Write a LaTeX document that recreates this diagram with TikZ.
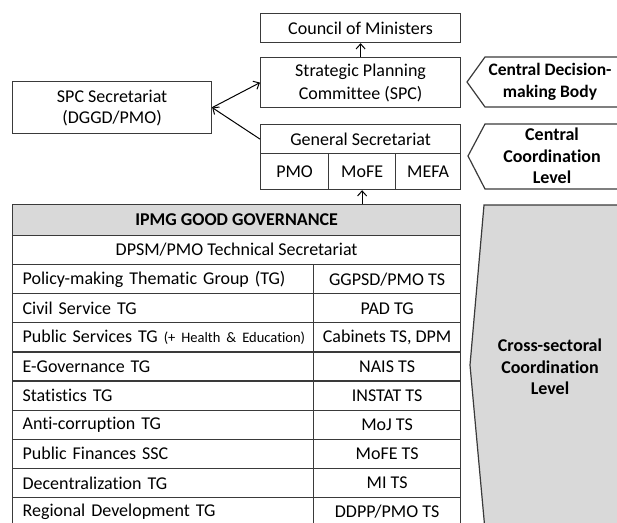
\documentclass[tikz,border=0pt]{standalone}
\usepackage{fontspec}
\setmainfont{Carlito}[Ligatures=NoCommon]
\usetikzlibrary{arrows.meta,calc}
\definecolor{fillg}{HTML}{D9D9D9}
\definecolor{lineg}{HTML}{3A3A3A}
\begin{document}
\begin{tikzpicture}[x=1pt,y=-1pt, font=\fontsize{18}{22}\selectfont,
 box/.style={draw=lineg, line width=1.2pt, inner sep=0pt, align=center, anchor=north west},
 arr/.style={-{Straight Barb[length=5pt,width=9pt]}, line width=1pt, draw=black},
 cellL/.style={box, minimum width=301pt, minimum height=29.1pt, text width=281pt, align=left},
 cellR/.style={box, minimum width=147pt, minimum height=29.1pt},
 lbl/.style={font=\fontsize{18}{21.5}\selectfont\bfseries, align=center},
 tag/.style={draw=lineg, line width=1.2pt},
 gtag/.style={draw=lineg, line width=1.2pt, fill=fillg}]
\clip (0,0) rectangle (617,522);
% top boxes
\node[box, minimum width=200pt, minimum height=29pt] (com) at (260,13) {Council of Ministers};
\node[box, minimum width=200pt, minimum height=50pt, font=\fontsize{18}{23}\selectfont] (spc) at (260,57) {Strategic Planning\\Committee (SPC)};
\node[box, minimum width=200pt, minimum height=29pt] (gst) at (260,124) {General Secretariat};
\node[box, minimum width=68pt, minimum height=36pt] (pmo) at (260,153) {PMO};
\node[box, minimum width=67pt, minimum height=36pt] (mofe) at (328,153) {MoFE};
\node[box, minimum width=65pt, minimum height=36pt] (mefa) at (395,153) {MEFA};
\node[box, minimum width=199pt, minimum height=52pt, font=\fontsize{18}{21}\selectfont] (sec) at (12,81) {SPC Secretariat\\(DGGD/PMO)};
% arrows
\draw[arr] (spc.north) -- (com.south);
\draw[arr] (sec.east) -- (spc.west);
\draw[arr] (gst.west) -- (sec.east);
% tags
\draw[tag] (625,57) -- (485,57) -- (467,82) -- (485,107) -- (625,107);
\node[lbl, font=\fontsize{17.5}{22}\selectfont\bfseries] (cdb) at (550,82) {Central Decision-\\making Body};
\draw[tag] (625,124) -- (485,124) -- (468,156) -- (485,189) -- (625,189);
\node[lbl] (ccl) at (552,156) {Central\\Coordination\\Level};
\draw[gtag] (625,205) -- (484,205) -- (470,365) -- (485,530) -- (625,530) -- cycle;
\node[lbl] (csc) at (550,367) {Cross-sectoral\\Coordination\\Level};
% table
\node[box, minimum width=448pt, minimum height=31pt, fill=fillg, font=\fontsize{18}{22}\selectfont\bfseries] (hdr) at (12,204) {IPMG GOOD GOVERNANCE};
\draw[arr] (mofe.south |- hdr.north) -- (mofe.south);
\node[box, minimum width=448pt, minimum height=29pt] (dpsm) at (12,235) {DPSM/PMO Technical Secretariat};
\foreach \i/\l/\r in {0/{Policy-making Thematic Group (TG)}/{GGPSD/PMO TS},
  1/{Civil Service TG}/{PAD TG},
  2/{\mbox{Public Services TG {\fontsize{14.5}{17}\selectfont(+ Health \& Education)}}}/{Cabinets TS, DPM},
  3/{E-Governance TG}/{NAIS TS},
  4/{Statistics TG}/{INSTAT TS},
  5/{Anti-corruption TG}/{MoJ TS},
  6/{Public Finances SSC}/{MoFE TS},
  7/{Decentralization TG}/{MI TS},
  8/{Regional Development TG}/{DDPP/PMO TS}}{
  \node[cellL] (l\i) at (12,264+29.1*\i) {\l};
  \node[cellR] (r\i) at (313,264+29.1*\i) {\r};
}
\end{tikzpicture}
\end{document}
